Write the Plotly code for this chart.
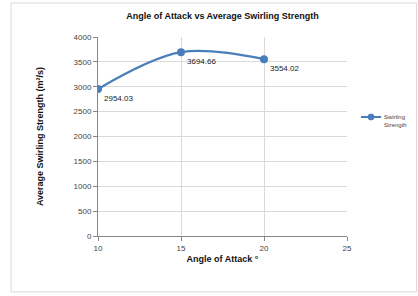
import plotly.graph_objects as go

angles = [10, 15, 20]
strength = [2954.03, 3694.66, 3554.02]
labels = ["2954.03", "3694.66", "3554.02"]
x_ticks = [10, 15, 20, 25]
y_ticks = [0, 500, 1000, 1500, 2000, 2500, 3000, 3500, 4000]
series_name = "Swirling<br>Strength"

blue = "#4A7EBB"
font = "Liberation Sans, Arial"
fig = go.Figure()
fig.add_trace(go.Scatter(
    x=angles, y=strength, mode="lines+markers+text",
    name=series_name, showlegend=False,
    line=dict(color=blue, width=2.2, shape="spline", smoothing=1.0),
    marker=dict(color=blue, size=8),
    text=labels, textposition="bottom right",
    textfont=dict(family=font, size=8, color="#222"),
))

fig.update_layout(
    width=418, height=296,
    margin=dict(l=98, r=71, t=37, b=60, autoexpand=False),
    paper_bgcolor="white", plot_bgcolor="white",
    title=dict(text="<b>Angle of Attack vs Average Swirling Strength</b>",
               x=0.5, xanchor="center", xref="paper", y=0.948, yanchor="middle",
               font=dict(family=font, size=9, color="#111")),
    xaxis=dict(range=[10, 25], tickvals=x_ticks, showgrid=True, gridcolor="#d9d9d9",
               gridwidth=1, showline=True, linecolor="#868686", linewidth=1,
               ticks="outside", ticklen=4, tickcolor="#868686", zeroline=False,
               tickfont=dict(family=font, size=8, color="#444"),
               title=dict(text="<b>Angle of Attack °</b>", standoff=4,
                          font=dict(family=font, size=9, color="#111"))),
    yaxis=dict(range=[0, 4000], tickvals=y_ticks, showgrid=True, gridcolor="#d9d9d9",
               gridwidth=1, showline=True, linecolor="#868686", linewidth=1,
               ticks="outside", ticklen=4, tickcolor="#868686", zeroline=False,
               tickfont=dict(family=font, size=8, color="#444"),
               title=dict(text="<b>Average Swirling Strength (m²/s)</b>", standoff=28,
                          font=dict(family=font, size=9, color="#111"))),
    showlegend=False,
    shapes=[
        dict(type="rect", xref="paper", yref="paper", x0=-0.349, x1=1.279, y0=-0.281, y1=1.171,
             line=dict(color="#d9d9d9", width=1)),
        # legend key
        dict(type="line", xref="paper", yref="paper", x0=1.056, x1=1.137, y0=0.598, y1=0.598,
             line=dict(color=blue, width=2)),
        dict(type="circle", xref="paper", yref="paper", x0=1.0845, x1=1.1085, y0=0.583, y1=0.613,
             fillcolor=blue, line=dict(color=blue, width=1)),
    ],
    annotations=[dict(text=series_name, xref="paper", yref="paper", x=1.14, y=0.578,
                      xanchor="left", yanchor="middle", showarrow=False, align="left",
                      font=dict(family=font, size=6, color="#444"))],
)
fig.write_html("out.html")
